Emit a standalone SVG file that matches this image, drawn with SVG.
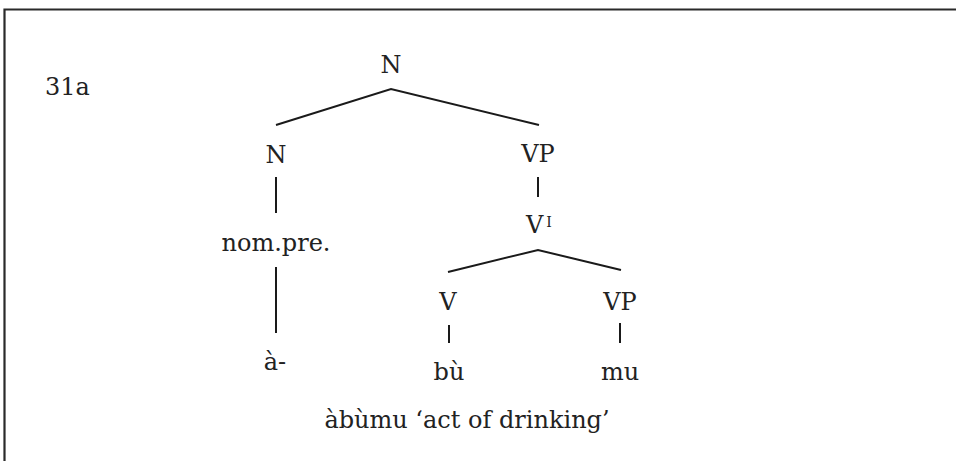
<svg xmlns="http://www.w3.org/2000/svg" width="956" height="461" viewBox="0 0 956 461">
  <style>
    .lbl { font-family: "DejaVu Serif", "Liberation Serif", serif; font-size: 24px; fill: #222; text-anchor: middle; }
    .sup { font-size: 14px; }
    .edge { stroke: #1a1a1a; stroke-width: 2; fill: none; stroke-linecap: butt; }
    .frame { stroke: #2a2a2a; stroke-width: 2.2; fill: none; }
  </style>
  <rect width="956" height="461" fill="#fff"/>
  <!-- frame: open at right and bottom -->
  <path class="frame" d="M4.5,461 V9.5 H956"/>

  <text class="lbl" x="45" y="95" style="text-anchor:start">31a</text>

  <g id="connectors">
    <path class="edge" d="M276,125 L391,89 L539,125"/>
    <path class="edge" d="M276,177 V213"/>
    <path class="edge" d="M538,177 V197"/>
    <path class="edge" d="M276,267 V333"/>
    <path class="edge" d="M448,272 L538,250 L621,270"/>
    <path class="edge" d="M449,325 V343"/>
    <path class="edge" d="M620,323 V343"/>
  </g>

  <g id="n-root"><text class="lbl" x="391" y="73">N</text></g>
  <g id="n-left"><text class="lbl" x="276" y="163">N</text></g>
  <g id="vp-top"><text class="lbl" x="538" y="162">VP</text></g>
  <g id="v-bar"><text class="lbl" x="526" y="233" style="text-anchor:start">V<tspan class="sup" dx="3" dy="-6">I</tspan></text></g>
  <g id="nom-pre"><text class="lbl" x="276" y="251">nom.pre.</text></g>
  <g id="v"><text class="lbl" x="448" y="310">V</text></g>
  <g id="vp-low"><text class="lbl" x="620" y="310">VP</text></g>
  <g id="a-prefix"><text class="lbl" x="275" y="370">à-</text></g>
  <g id="bu"><text class="lbl" x="449" y="380">bù</text></g>
  <g id="mu"><text class="lbl" x="620" y="380">mu</text></g>
  <g id="gloss"><text class="lbl" x="467" y="428">àbùmu ‘act of drinking’</text></g>
</svg>
